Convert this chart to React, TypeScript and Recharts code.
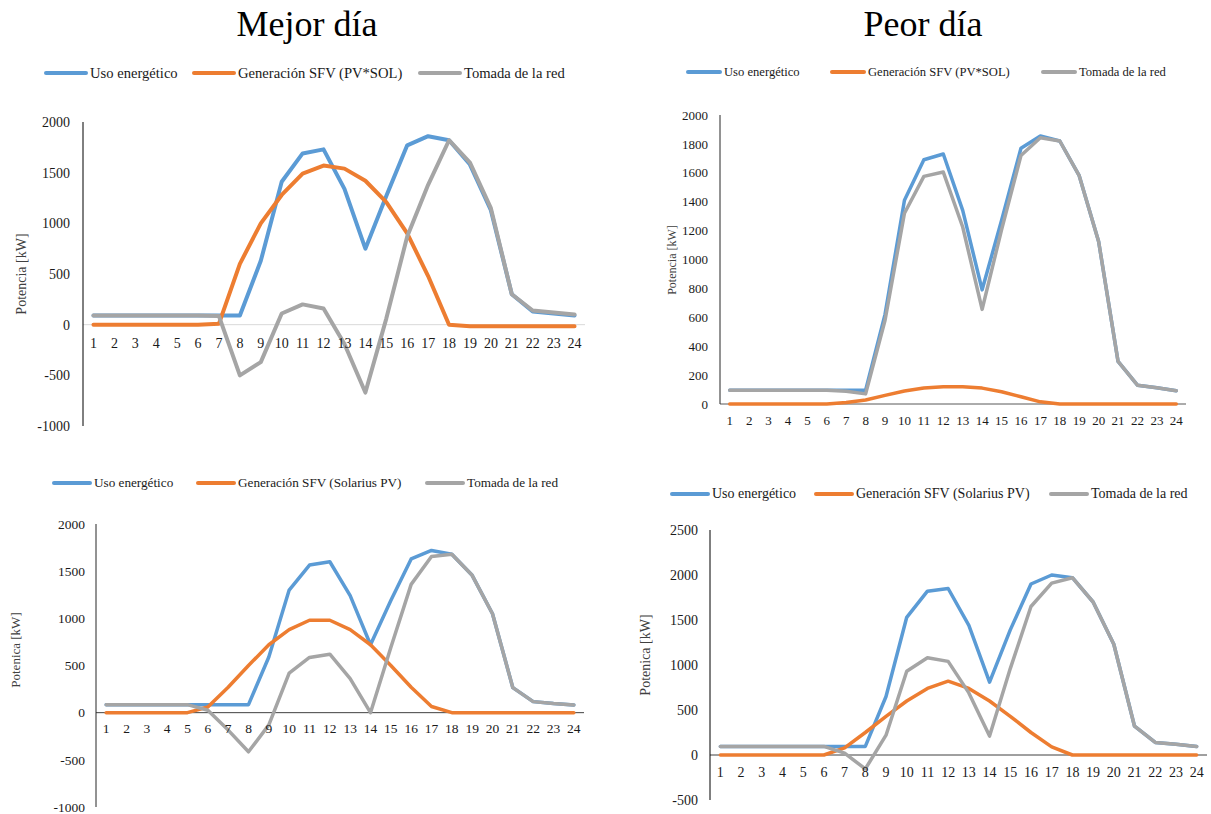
import React from 'react'
import { LineChart, Line, XAxis, YAxis, ReferenceLine } from 'recharts'

// hours of the day
const hours = ['1', '2', '3', '4', '5', '6', '7', '8', '9', '10', '11', '12', '13', '14', '15', '16', '17', '18', '19', '20', '21', '22', '23', '24']

// Mejor día - PV*SOL
const mejorPvsolUso = [90, 90, 90, 90, 90, 90, 90, 90, 630, 1410, 1690, 1730, 1340, 750, 1270, 1770, 1860, 1820, 1580, 1130, 300, 130, 110, 90]
const mejorPvsolGen = [0, 0, 0, 0, 0, 0, 10, 600, 1000, 1280, 1490, 1570, 1540, 1420, 1210, 900, 480, 0, -15, -15, -15, -15, -15, -15]
const mejorPvsolRed = [90, 90, 90, 90, 90, 90, 85, -500, -370, 110, 200, 160, -190, -670, 60, 870, 1380, 1820, 1600, 1150, 300, 140, 120, 100]

// Peor día - PV*SOL
const peorPvsolUso = [95, 95, 95, 95, 95, 95, 95, 95, 620, 1410, 1690, 1730, 1340, 790, 1270, 1770, 1855, 1820, 1580, 1125, 295, 130, 113, 92]
const peorPvsolGen = [0, 0, 0, 0, 0, 0, 10, 28, 60, 90, 110, 120, 120, 110, 85, 50, 15, 0, 0, 0, 0, 0, 0, 0]
const peorPvsolRed = [95, 95, 95, 95, 95, 95, 88, 70, 580, 1320, 1575, 1605, 1225, 655, 1205, 1720, 1843, 1820, 1580, 1125, 295, 130, 113, 92]

// Mejor día - Solarius PV
const mejorSolUso = [85, 85, 85, 85, 85, 85, 85, 85, 590, 1300, 1565, 1600, 1240, 720, 1190, 1630, 1720, 1680, 1456, 1048, 265, 117, 96, 82]
const mejorSolGen = [0, 0, 0, 0, 0, 60, 270, 500, 720, 880, 980, 980, 880, 720, 500, 270, 65, 0, 0, 0, 0, 0, 0, 0]
const mejorSolRed = [85, 85, 85, 85, 85, 25, -185, -415, -130, 420, 585, 620, 360, 0, 690, 1360, 1655, 1680, 1456, 1048, 265, 117, 96, 82]

// Peor día - Solarius PV
const peorSolUso = [95, 95, 95, 95, 95, 95, 95, 95, 650, 1530, 1820, 1850, 1440, 810, 1390, 1900, 2000, 1970, 1700, 1230, 320, 140, 120, 95]
const peorSolGen = [0, 0, 0, 0, 0, 0, 80, 250, 430, 600, 740, 820, 740, 600, 430, 250, 90, 0, 0, 0, 0, 0, 0, 0]
const peorSolRed = [95, 95, 95, 95, 95, 95, 20, -155, 220, 930, 1080, 1040, 690, 210, 960, 1650, 1910, 1970, 1700, 1230, 320, 140, 120, 95]

const ticksA = [-1000, -500, 0, 500, 1000, 1500, 2000]
const ticksB = [0, 200, 400, 600, 800, 1000, 1200, 1400, 1600, 1800, 2000]
const ticksC = [-500, 0, 500, 1000, 1500, 2000, 2500]

const BLUE = '#5b9bd5'
const ORANGE = '#ed7d31'
const GRAY = '#a5a5a5'
const FONT = "'Liberation Serif', 'Times New Roman', serif"

const rowsOf = (uso: number[], gen: number[], red: number[]) =>
  hours.map((h, i) => ({ hour: h, uso: uso[i], gen: gen[i], red: red[i] }))

type PanelProps = {
  left: number
  top: number
  width: number
  height: number
  mTop: number
  mRight: number
  mBottom: number
  yWidth: number
  xHeight: number
  tickMargin: number
  domain: [number, number]
  ticks: number[]
  rows: any[]
  fontSize: number
  zeroColor: string
  axisColor: string
  xLabelGap: number
  lineWidth: number
}

function Panel(p: PanelProps) {
  const plotH = p.height - p.mTop - p.mBottom - p.xHeight
  const plotW = p.width - p.yWidth - p.mRight
  const half = plotW / (hours.length * 2) // points sit in the middle of each hour band
  const zeroY = p.mTop + (plotH * p.domain[1]) / (p.domain[1] - p.domain[0]) + p.xLabelGap
  const xTick = (t: any) => (
    <text x={t.x} y={zeroY} dy="0.35em" textAnchor="middle" fontSize={p.fontSize} fill="#1a1a1a" fontFamily={FONT}>
      {t.payload.value}
    </text>
  )
  return (
    <div style={{ position: 'absolute', left: p.left, top: p.top }}>
      <LineChart width={p.width} height={p.height} data={p.rows} margin={{ top: p.mTop, right: p.mRight, bottom: p.mBottom, left: 0 }}>
        <XAxis dataKey="hour" height={p.xHeight} axisLine={false} tickLine={false} interval={0} tick={xTick} padding={{ left: half, right: half }} />
        <YAxis
          width={p.yWidth}
          domain={p.domain}
          ticks={p.ticks}
          interval={0}
          tickSize={0}
          tickMargin={p.tickMargin}
          tickLine={false}
          axisLine={{ stroke: p.axisColor, strokeWidth: 1 }}
          tick={{ fontSize: p.fontSize, fill: '#1a1a1a', fontFamily: FONT }}
        />
        <ReferenceLine y={0} stroke={p.zeroColor} strokeWidth={1} />
        <Line type="linear" dataKey="uso" stroke={BLUE} strokeWidth={p.lineWidth} dot={false} strokeLinejoin="round" strokeLinecap="round" isAnimationActive={false} />
        <Line type="linear" dataKey="gen" stroke={ORANGE} strokeWidth={p.lineWidth} dot={false} strokeLinejoin="round" strokeLinecap="round" isAnimationActive={false} />
        <Line type="linear" dataKey="red" stroke={GRAY} strokeWidth={p.lineWidth} dot={false} strokeLinejoin="round" strokeLinecap="round" isAnimationActive={false} />
      </LineChart>
    </div>
  )
}

function LegendRow({ y, xs, labels, fontSize, sample }: { y: number; xs: number[]; labels: string[]; fontSize: number; sample: number }) {
  const colors = [BLUE, ORANGE, GRAY]
  return (
    <>
      {labels.map((l, i) => (
        <div key={l} style={{ position: 'absolute', left: xs[i], top: y - 10, height: 20, display: 'flex', alignItems: 'center', whiteSpace: 'nowrap' }}>
          <span style={{ display: 'inline-block', width: sample, height: 4, borderRadius: 2, background: colors[i] }} />
          <span style={{ fontSize, color: '#1a1a1a', marginLeft: 2 }}>{l}</span>
        </div>
      ))}
    </>
  )
}

function YTitle({ cx, cy, text, fontSize }: { cx: number; cy: number; text: string; fontSize: number }) {
  return (
    <div
      style={{
        position: 'absolute', left: cx - 80, top: cy - 9, width: 160, height: 18, lineHeight: '18px',
        textAlign: 'center', fontSize, color: '#404040', transform: 'rotate(-90deg)', whiteSpace: 'nowrap',
      }}
    >
      {text}
    </div>
  )
}

export default function App() {
  const legPv = ['Uso energético', 'Generación SFV (PV*SOL)', 'Tomada de la red']
  const legSol = ['Uso energético', 'Generación SFV (Solarius PV)', 'Tomada de la red']
  return (
    <div style={{ position: 'absolute', left: 0, top: 0, width: 1211, height: 814, background: '#fff', fontFamily: FONT, overflow: 'hidden' }}>
      <div style={{ position: 'absolute', left: 157, top: 3, width: 300, textAlign: 'center', fontSize: 36, lineHeight: '43px' }}>Mejor día</div>
      <div style={{ position: 'absolute', left: 773, top: 3, width: 300, textAlign: 'center', fontSize: 36, lineHeight: '43px' }}>Peor día</div>

      <LegendRow y={73} xs={[44, 192, 418]} labels={legPv} fontSize={14.6} sample={44} />
      <LegendRow y={72} xs={[686, 830, 1041]} labels={legPv} fontSize={12.6} sample={36} />
      <LegendRow y={483} xs={[52, 196, 425]} labels={legSol} fontSize={13.2} sample={40} />
      <LegendRow y={494} xs={[670, 814, 1049]} labels={legSol} fontSize={14} sample={40} />

      <YTitle cx={22} cy={274} text="Potencia [kW]" fontSize={14} />
      <YTitle cx={672} cy={260} text="Potencia [kW]" fontSize={12} />
      <YTitle cx={16} cy={650} text="Potenica [kW]" fontSize={13} />
      <YTitle cx={646} cy={655} text="Potenica [kW]" fontSize={14} />

      <Panel
        left={0} top={100} width={600} height={340} mTop={22} mRight={15} mBottom={13} yWidth={83} xHeight={1}
        tickMargin={13} domain={[-1000, 2000]} ticks={ticksA} rows={rowsOf(mejorPvsolUso, mejorPvsolGen, mejorPvsolRed)}
        fontSize={14} zeroColor="#d9d9d9" axisColor="#000" xLabelGap={18} lineWidth={4}
      />
      <Panel
        left={610} top={90} width={590} height={340} mTop={25} mRight={14} mBottom={25} yWidth={110} xHeight={1}
        tickMargin={12} domain={[0, 2000]} ticks={ticksB} rows={rowsOf(peorPvsolUso, peorPvsolGen, peorPvsolRed)}
        fontSize={13} zeroColor="#595959" axisColor="#262626" xLabelGap={16} lineWidth={3.5}
      />
      <Panel
        left={0} top={500} width={600} height={314} mTop={24} mRight={16} mBottom={6} yWidth={96} xHeight={1}
        tickMargin={11} domain={[-1000, 2000]} ticks={ticksA} rows={rowsOf(mejorSolUso, mejorSolGen, mejorSolRed)}
        fontSize={13.5} zeroColor="#404040" axisColor="#262626" xLabelGap={16} lineWidth={3.5}
      />
      <Panel
        left={610} top={510} width={601} height={304} mTop={20} mRight={4} mBottom={13} yWidth={100} xHeight={1}
        tickMargin={12} domain={[-500, 2500]} ticks={ticksC} rows={rowsOf(peorSolUso, peorSolGen, peorSolRed)}
        fontSize={14} zeroColor="#404040" axisColor="#000" xLabelGap={17} lineWidth={3.5}
      />
    </div>
  )
}
